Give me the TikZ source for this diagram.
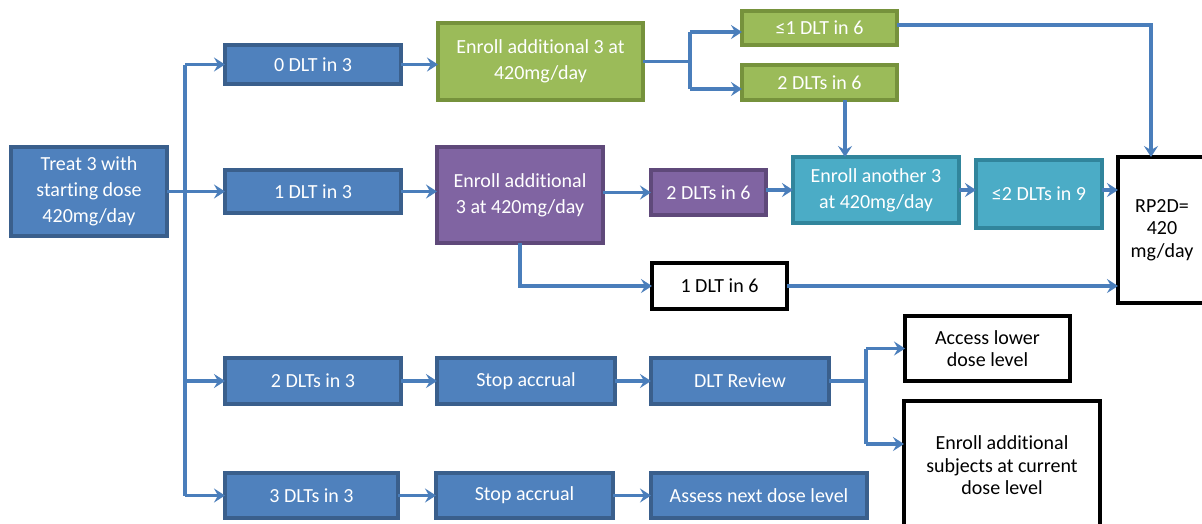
\documentclass[tikz,border=0pt]{standalone}
\usepackage{fontspec}
\setmainfont{Carlito}[Ligatures=NoCommon]
\usetikzlibrary{arrows.meta}
\definecolor{bfill}{HTML}{4F81BD}
\definecolor{bdraw}{HTML}{3A5F8C}
\definecolor{gfill}{HTML}{9BBB59}
\definecolor{gdraw}{HTML}{76923C}
\definecolor{pfill}{HTML}{8064A2}
\definecolor{pdraw}{HTML}{5F497A}
\definecolor{cfill}{HTML}{4BACC6}
\definecolor{cdraw}{HTML}{31859C}
\definecolor{conncol}{HTML}{4A7EBB}
\tikzset{
  boxbase/.style={rectangle, inner sep=0pt, outer sep=0pt, align=center,
    font=\fontsize{20}{26}\selectfont, line width=3.4pt},
  bluebox/.style={boxbase, fill=bfill, draw=bdraw, text=white},
  greenbox/.style={boxbase, fill=gfill, draw=gdraw, text=white},
  purplebox/.style={boxbase, fill=pfill, draw=pdraw, text=white},
  cyanbox/.style={boxbase, fill=cfill, draw=cdraw, text=white},
  whitebox/.style={boxbase, fill=white, draw=black, text=black, line width=3.8pt,
    font=\fontsize{20}{22.5}\selectfont},
  conn/.style={draw=conncol, line width=3.4pt},
  arr/.style={conn, -{Stealth[length=11pt,width=14pt,inset=4pt]}},
  sz/.style 2 args={minimum width=#1pt, minimum height=#2pt}
}
\begin{document}
\begin{tikzpicture}[x=1pt,y=-1pt]
\clip (0,0) rectangle (1202,523);
\fill[white] (0,0) rectangle (1202,523);
% nodes
\node[bluebox, sz={156}{89}] (treat) at (89,191.5) {Treat 3 with\\starting dose\\420mg/day};
\node[bluebox, sz={176}{39}] (d0) at (313,64.5) {0 DLT in 3};
\node[bluebox, sz={176}{43}] (d1) at (313,191.5) {1 DLT in 3};
\node[bluebox, sz={176}{46}] (d2) at (313,381) {2 DLTs in 3};
\node[bluebox, sz={173}{45}] (d3) at (311.5,495.5) {3 DLTs in 3};
\node[greenbox, sz={205}{77}] (genroll) at (540.5,61.5) {Enroll additional 3 at\\420mg/day};
\node[greenbox, sz={155}{34}] (le1) at (819.5,28) {≤1 DLT in 6};
\node[greenbox, sz={155}{35}] (g2) at (819.5,82.5) {2 DLTs in 6};
\node[purplebox, sz={166}{96}] (penroll) at (520,195) {Enroll additional\\3 at 420mg/day};
\node[purplebox, sz={115}{45}] (p2) at (708.5,192.5) {2 DLTs in 6};
\node[cyanbox, sz={166}{66}] (cenroll) at (876,190) {Enroll another 3\\at 420mg/day};
\node[cyanbox, sz={126}{68}] (c9) at (1039,194) {≤2 DLTs in 9};
\node[whitebox, sz={88}{146}] (rp2d) at (1162,230) {RP2D=\\420\\mg/day};
\node[whitebox, sz={135}{46}] (one6) at (719.5,286) {1 DLT in 6};
\node[bluebox, sz={178}{46}] (sa1) at (526,381) {Stop accrual};
\node[bluebox, sz={178}{46}] (rev) at (740,381) {DLT Review};
\node[bluebox, sz={177}{45}] (sa2) at (524.5,495.5) {Stop accrual};
\node[bluebox, sz={216}{45}] (assess) at (759,495.5) {Assess next dose level};
\node[whitebox, sz={165}{65}] (lower) at (987.5,348.5) {Access lower\\dose level};
\node[whitebox, sz={196}{129}] (subj) at (1002,465.5) {Enroll additional\\subjects at current\\dose level};
% branch points
\coordinate (trunk) at (185,0);
\coordinate (gbr) at (690,0);
\coordinate (rbr) at (866,0);
% connectors from Treat
\draw[conn] (treat.east) -- (trunk |- treat.east);
\draw[conn] (trunk |- d0) -- (trunk |- d3);
\draw[arr] (trunk |- d0) -- (d0.west);
\draw[arr] (trunk |- d1) -- (d1.west);
\draw[arr] (trunk |- d2) -- (d2.west);
\draw[arr] (trunk |- d3) -- (d3.west);
% row connectors
\draw[arr] (d0.east) -- (genroll.west |- d0.east);
\draw[arr] (d1.east) -- (penroll.west |- d1.east);
\draw[arr] (d2.east) -- (sa1.west);
\draw[arr] (sa1.east) -- (rev.west);
\draw[arr] (d3.east) -- (sa2.west);
\draw[arr] (sa2.east) -- (assess.west);
% green branch
\draw[conn] (genroll.east) -- (gbr |- genroll.east);
\draw[conn] (gbr |- 0,32) -- (gbr |- 0,89);
\draw[arr] (gbr |- 0,32) -- (le1.west |- 0,32);
\draw[arr] (gbr |- 0,89) -- (g2.west |- 0,89);
\draw[arr] ([xshift=25.5pt]g2.south) -- ([xshift=25.5pt]g2.south |- cenroll.north);
\draw[arr] ([yshift=3pt]le1.east) -| ([xshift=-11pt]rp2d.north);
% purple row
\draw[arr] (penroll.east |- p2) -- (p2.west);
\draw[arr] (p2.east |- cenroll) -- (cenroll.west);
\draw[arr] (cenroll.east) -- (c9.west |- cenroll.east);
\draw[arr] (c9.east |- cenroll.east) -- (rp2d.west |- cenroll.east);
\draw[arr] (penroll.south) |- (one6.west);
\draw[arr] (one6.east) -- (rp2d.west |- one6.east);
% review branch
\draw[conn] (rev.east) -- (rbr |- rev.east);
\draw[conn] (rbr |- lower) -- (rbr |- 0,444);
\draw[arr] (rbr |- lower) -- (lower.west);
\draw[arr] (rbr |- 0,444) -- (subj.west |- 0,444);
\end{tikzpicture}
\end{document}
